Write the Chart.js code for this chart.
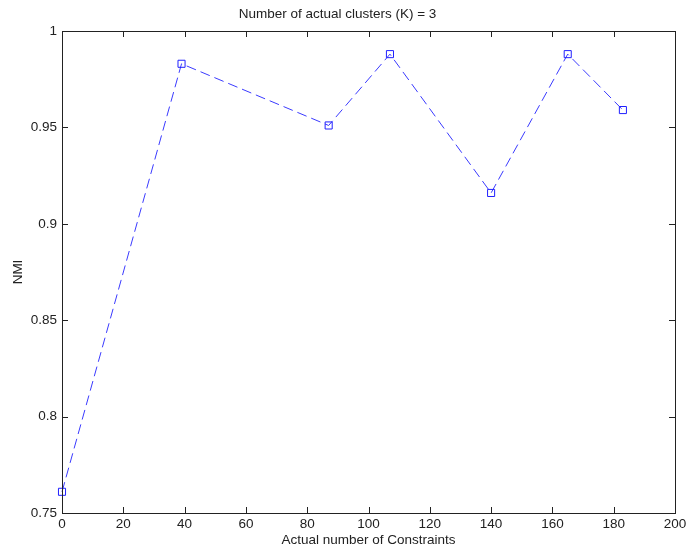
<!DOCTYPE html>
<html>
<head>
<meta charset="utf-8">
<script src="https://cdn.jsdelivr.net/npm/chart.js@4"></script>
<style>
  html, body { margin: 0; padding: 0; background: #fff; }
  #wrap { width: 687px; height: 549px; }
</style>
</head>
<body>
<div id="wrap"><canvas id="nmi"></canvas></div>
<script>
// dados
const constraints = [0, 39, 87, 107, 140, 165, 183];
const nmiValues = [0.761, 0.983, 0.951, 0.988, 0.916, 0.988, 0.959];

const xTicks = [0, 20, 40, 60, 80, 100, 120, 140, 160, 180, 200];
const yTicks = [0.75, 0.8, 0.85, 0.9, 0.95, 1];

const FONT = { family: "'Liberation Sans', Arial, Helvetica, sans-serif", size: 13.5 };
const TEXT = '#222';

// caixa com marcas para dentro (estilo MATLAB)
const boxTicks = {
    id: 'boxTicks',
    afterDraw(chart) {
        const { ctx, chartArea: a, scales } = chart;
        const len = 6;
        ctx.save();
        ctx.strokeStyle = '#222';
        ctx.lineWidth = 1;
        ctx.beginPath();
        xTicks.forEach(v => {
            const x = Math.round(scales.x.getPixelForValue(v)) + 0.5;
            ctx.moveTo(x, a.bottom); ctx.lineTo(x, a.bottom - len);
            ctx.moveTo(x, a.top); ctx.lineTo(x, a.top + len);
        });
        yTicks.forEach(v => {
            const y = Math.round(scales.y.getPixelForValue(v)) + 0.5;
            ctx.moveTo(a.left, y); ctx.lineTo(a.left + len, y);
            ctx.moveTo(a.right, y); ctx.lineTo(a.right - len, y);
        });
        ctx.stroke();
        ctx.strokeRect(Math.round(a.left) + 0.5, Math.round(a.top) + 0.5,
            Math.round(a.right - a.left), Math.round(a.bottom - a.top));
        ctx.restore();
    }
};

const ctx = document.getElementById('nmi').getContext('2d');
const chart = new Chart(ctx, {
    type: 'scatter',
    data: {
        datasets: [{
            label: 'NMI',
            data: constraints.map((c, i) => ({ x: c, y: nmiValues[i] })),
            showLine: true,
            clip: false,
            borderColor: '#3a3aff',
            borderWidth: 1,
            borderDash: [10, 5],
            pointStyle: 'rect',
            pointRadius: 5,
            pointBorderWidth: 1,
            pointBorderColor: '#2020ff',
            pointBackgroundColor: 'rgba(0,0,0,0)',
            tension: 0
        }]
    },
    options: {
        responsive: true,
        maintainAspectRatio: false,
        animation: false,
        layout: { padding: { left: 0, right: 12, top: 0, bottom: 0 } },
        plugins: {
            legend: { display: false },
            tooltip: { enabled: false },
            title: {
                display: true,
                text: 'Number of actual clusters (K) = 3',
                color: TEXT,
                font: { ...FONT, weight: 'normal', lineHeight: 1.2 },
                padding: { top: 6, bottom: 8.8 }
            }
        },
        scales: {
            x: {
                type: 'linear',
                min: 0,
                max: 200,
                afterBuildTicks: s => { s.ticks = xTicks.map(v => ({ value: v })); },
                afterFit: s => { s.height = 36; s.paddingLeft = 0; s.paddingRight = 0; },
                grid: { display: false, drawTicks: false },
                border: { display: false },
                ticks: { color: TEXT, font: FONT, padding: 3, maxRotation: 0 },
                title: {
                    display: true,
                    text: 'Actual number of Constraints',
                    color: TEXT,
                    font: { ...FONT, lineHeight: 1.2 },
                    padding: { top: 0, bottom: 1 }
                }
            },
            y: {
                min: 0.75,
                max: 1,
                afterBuildTicks: s => { s.ticks = yTicks.map(v => ({ value: v })); },
                afterFit: s => { s.width = 62; s.paddingTop = 0; s.paddingBottom = 0; },
                grid: { display: false, drawTicks: false },
                border: { display: false },
                ticks: { color: TEXT, font: FONT, padding: 5, callback: v => String(v) },
                title: {
                    display: true,
                    text: 'NMI',
                    color: TEXT,
                    font: { ...FONT, lineHeight: 1.2 },
                    padding: { top: 10, bottom: 0 }
                }
            }
        }
    },
    plugins: [boxTicks]
});
</script>
</body>
</html>
